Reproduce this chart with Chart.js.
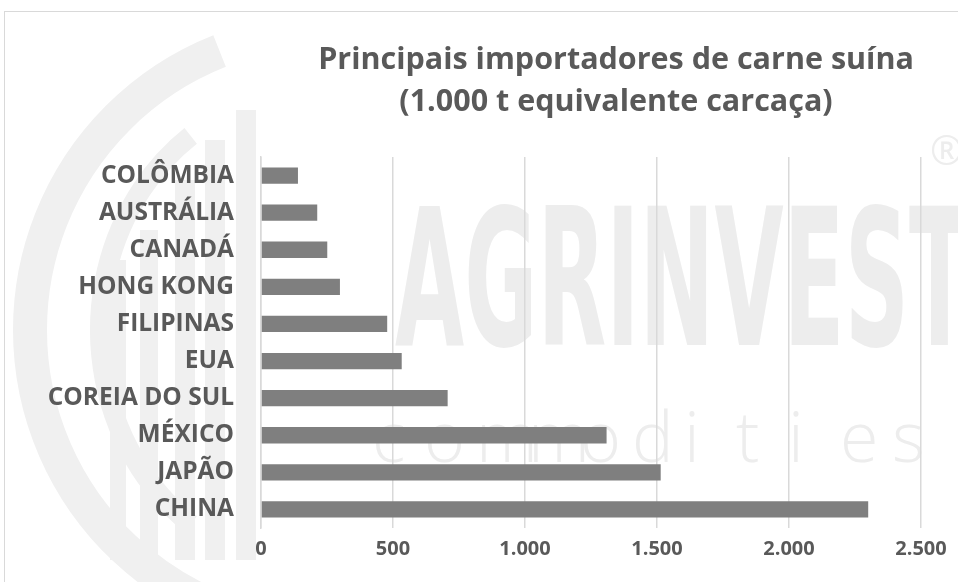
<!DOCTYPE html>
<html>
<head>
<meta charset="utf-8">
<script src="https://cdn.jsdelivr.net/npm/chart.js@4.4.1/dist/chart.umd.min.js"></script>
<style>
  html, body { margin: 0; padding: 0; background: #ffffff; }
  #wrap { position: relative; width: 958px; height: 582px; overflow: hidden; background: #fff; }
  #frame { position: absolute; left: 4px; top: 11px; width: 990px; height: 600px; border: 1px solid #d9d9d9; box-sizing: border-box; }
  #title { position: absolute; left: 266px; width: 700px; top: 36px; text-align: center;
           font-family: "Open Sans", "Noto Sans", sans-serif; font-weight: 700; font-size: 30.5px;
           line-height: 42px; color: #595959; z-index: 2; }
  canvas { position: absolute; left: 0; top: 0; }
</style>
</head>
<body>
<div id="wrap">
  <canvas id="c" width="958" height="582"></canvas>
  <div id="frame"></div>
  <div id="title">Principais importadores de carne suína<br>(1.000 t equivalente carcaça)</div>
</div>
<script>
const categories = ["COLÔMBIA", "AUSTRÁLIA", "CANADÁ", "HONG KONG", "FILIPINAS", "EUA", "COREIA DO SUL", "MÉXICO", "JAPÃO", "CHINA"];
const imports = [140, 213, 251, 299, 478, 533, 707, 1309, 1514, 2300];
const tickValues = [0, 500, 1000, 1500, 2000, 2500];

function fmtPt(v) {
  return v.toLocaleString('de-DE');
}

const watermark = {
  id: 'watermark',
  beforeDraw(chart) {
    const ctx = chart.ctx;
    ctx.save();
    ctx.fillStyle = '#f0f0f0';
    ctx.strokeStyle = '#f0f0f0';
    // crescent arcs
    ctx.lineWidth = 34;
    ctx.beginPath();
    ctx.ellipse(330, 330, 300, 300, 0, Math.PI * 0.62, Math.PI * 1.38);
    ctx.stroke();
    ctx.lineWidth = 20;
    ctx.beginPath();
    ctx.ellipse(320, 330, 220, 240, 0, Math.PI * 0.7, Math.PI * 1.3);
    ctx.stroke();
    // vertical columns
    const cols = [[110, 260, 16], [140, 230, 18], [175, 180, 20], [205, 140, 20], [236, 110, 20]];
    cols.forEach(c => ctx.fillRect(c[0], c[1], c[2], 560 - c[1]));
    // text
    ctx.fillStyle = '#ededed';
    ctx.textBaseline = 'alphabetic';
    ctx.font = '700 190px "Liberation Sans Narrow", "DejaVu Sans Condensed", sans-serif';
    ctx.save();
    ctx.translate(395, 345);
    const w = ctx.measureText('AGRINVEST').width;
    ctx.scale(575 / w, 1);
    ctx.fillText('AGRINVEST', 0, 0);
    ctx.restore();
    ctx.font = '300 70px "Open Sans", sans-serif';
    const letters = 'commodities'.split('');
    letters.forEach((l, i) => ctx.fillText(l, 372 + i * 52, 462));
    ctx.font = '40px "Open Sans", sans-serif';
    ctx.fillText('®', 930, 165);
    ctx.restore();
  }
};

new Chart(document.getElementById('c'), {
  type: 'bar',
  data: {
    labels: categories,
    datasets: [{
      data: imports,
      backgroundColor: '#7f7f7f',
      borderWidth: 0,
      categoryPercentage: 1.0,
      barPercentage: 0.44
    }]
  },
  plugins: [watermark],
  options: {
    indexAxis: 'y',
    responsive: false,
    animation: false,
    devicePixelRatio: 1,
    layout: { padding: { top: 157, right: 37, left: 0, bottom: 0 } },
    plugins: { legend: { display: false }, tooltip: { enabled: false }, title: { display: false } },
    scales: {
      x: {
        min: 0, max: 2500,
        afterBuildTicks(scale) { scale.ticks = tickValues.map(v => ({ value: v })); },
        afterFit(scale) { scale.height = 54; },
        grid: { color: '#d9d9d9', lineWidth: 1.5, drawTicks: false },
        border: { display: false },
        ticks: {
          padding: 9,
          color: '#595959',
          font: { family: '"Open Sans", "Noto Sans", sans-serif', size: 20, weight: 'bold' },
          callback: v => fmtPt(v)
        }
      },
      y: {
        afterFit(scale) { scale.width = 261; },
        grid: { display: false, drawTicks: false },
        border: { display: true, color: '#d9d9d9', width: 1.5 },
        ticks: {
          padding: 27,
          color: '#595959',
          font: { family: '"Open Sans", "Noto Sans", sans-serif', size: 24.5, weight: 'bold' }
        }
      }
    }
  }
});
</script>
</body>
</html>
